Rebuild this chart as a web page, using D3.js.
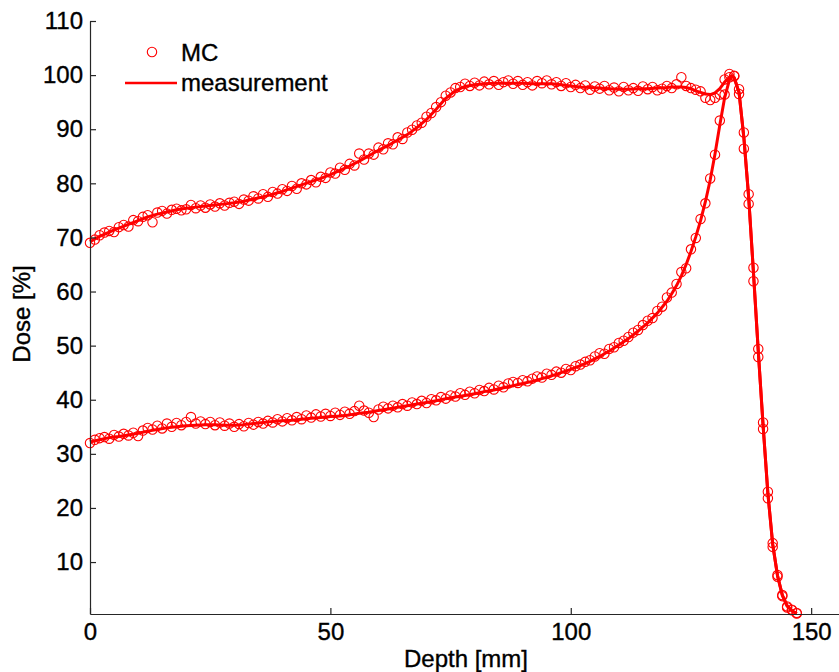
<!DOCTYPE html>
<html>
<head>
<meta charset="utf-8">
<script src="https://cdn.jsdelivr.net/npm/d3@7/dist/d3.min.js"></script>
<style>
  html, body { margin: 0; padding: 0; background: #fff; }
  svg { display: block; }
  text { font-family: "Liberation Sans", Arial, Helvetica, sans-serif; fill: #000; stroke: #000; stroke-width: 0.35px; }
</style>
</head>
<body>
<svg id="chart" width="839" height="672"></svg>
<script>
// ---------- data ----------
const xTicks = [0, 50, 100, 150];
const yTicks = [10, 20, 30, 40, 50, 60, 70, 80, 90, 100, 110];
const xLabel = "Depth [mm]";
const yLabel = "Dose [%]";
const legendLabels = ["MC", "measurement"];

// Monte Carlo depths (mm)
const mcDepth = [0,1,2,3,4,5,6,7,8,9,10,11,12,13,14,15,16,17,18,19,20,21,22,23,24,25,26,27,28,29,
  30,31,32,33,34,35,36,37,38,39,40,41,42,43,44,45,46,47,48,49,50,51,52,53,54,55,56,57,58,59,
  60,61,62,63,64,65,66,67,68,69,70,71,72,73,74,75,76,77,78,79,80,81,82,83,84,85,86,87,88,89,
  90,91,92,93,94,95,96,97,98,99,100,101,102,103,104,105,106,107,108,109,110,111,112,113,114,115,116,117,118,119,
  120,121,122,123,124,125,126,127,128,129,130,131,132,133,134,135,136,137,138,139,140,141,142,143,144,145,146,147];

// MC, spread-out Bragg peak
const mcSOBP = [69.0,69.6,70.4,70.9,71.2,71.0,71.9,72.3,72.0,73.2,73.0,73.8,74.1,72.8,74.6,74.9,74.4,75.1,75.3,75.0,
  75.2,76.0,75.4,75.9,75.5,76.1,75.7,76.3,75.9,76.4,76.6,76.2,77.0,76.8,77.6,77.2,78.0,77.5,78.4,78.1,
  78.9,78.6,79.5,79.0,80.0,79.8,80.6,80.2,81.2,81.0,82.0,81.8,82.9,82.5,83.6,83.3,85.5,84.4,85.5,85.3,
  86.6,86.3,87.4,87.2,88.5,88.2,89.4,89.9,90.7,91.2,92.3,93.0,94.1,95.0,96.2,96.8,97.6,97.8,98.4,98.0,
  98.6,98.1,98.8,98.3,98.9,98.2,98.7,99.0,98.4,98.9,98.2,98.7,98.1,98.9,98.5,99.0,98.3,98.7,98.0,98.5,
  97.8,98.2,97.6,98.1,97.3,97.9,97.5,98.0,97.2,97.7,97.0,97.8,97.2,97.6,97.1,97.9,97.4,97.8,97.2,97.5,
  98.0,97.6,98.3,99.6,98.0,97.6,97.3,97.0,95.8,95.4,95.8,96.4,99.2,100.2,99.9,97.4,89.4,78.0,64.4,49.4,
  35.8,23.0,13.5,7.6,3.9,1.8,1.1,0.5];

// MC, pristine Bragg peak
const mcPristine = [32.0,32.6,32.9,33.1,32.8,33.5,33.2,33.7,33.4,33.9,33.3,34.3,34.8,34.5,35.2,34.7,35.6,35.0,35.7,35.3,
  35.9,36.8,35.6,36.0,35.5,35.9,35.3,35.8,35.2,35.6,35.0,35.5,35.1,35.7,35.4,35.9,35.6,36.1,35.8,36.4,
  36.0,36.6,36.2,36.8,36.4,37.1,36.7,37.3,36.9,37.4,37.0,37.6,37.2,37.8,37.4,37.9,38.9,38.0,37.6,36.8,
  38.2,38.7,38.4,38.9,38.6,39.2,38.9,39.5,39.2,39.8,39.4,40.1,39.9,40.5,40.2,40.8,40.6,41.2,40.9,41.5,
  41.2,41.8,41.6,42.2,41.9,42.6,42.3,43.0,43.3,43.1,43.6,43.4,43.9,44.3,44.1,44.8,44.6,45.2,45.0,45.7,
  45.5,46.2,46.5,47.0,47.3,48.0,48.6,48.5,49.4,49.7,50.5,50.9,51.6,52.4,52.9,53.8,54.6,55.1,56.4,57.2,
  58.9,59.8,61.4,63.6,64.3,67.8,69.9,73.4,76.3,80.9,85.3,91.6,96.4,99.6,99.8,96.5,86.4,76.2,61.9,47.9,
  34.6,21.8,12.8,7.3,3.7,1.6,1.2,0.6];

// Measurement depths (mm)
const measDepth = [0,2,4,6,8,10,12,14,16,18,20,22,24,26,28,30,32,34,36,38,40,42,44,46,48,50,52,54,56,58,
  60,62,64,66,68,70,72,74,76,78,80,82,84,86,88,90,92,94,96,98,100,102,104,106,108,110,112,114,116,118,
  120,121,122,123,124,125,126,127,128,129,130,131,132,133,133.5,134,135,136,137,138,139,140,141,142,143,144,145,146,147];

// Measurement, spread-out Bragg peak
const measSOBP = [69.2,70.2,71.0,71.7,72.4,73.1,73.8,74.3,74.7,75.1,75.4,75.6,75.8,76.0,76.2,76.4,76.7,77.1,77.5,78.0,
  78.5,79.1,79.7,80.3,80.9,81.6,82.4,83.2,84.1,85.1,86.1,87.0,88.0,89.0,90.3,91.8,93.7,95.7,97.1,97.9,
  98.2,98.4,98.5,98.5,98.5,98.5,98.4,98.4,98.4,98.2,98.0,97.8,97.7,97.6,97.5,97.4,97.4,97.5,97.5,97.6,
  97.7,97.8,97.8,97.8,97.7,97.5,97.1,96.8,96.5,96.4,96.7,97.5,98.7,99.6,99.9,99.5,96.8,88.5,77.5,63.5,
  49.0,35.3,22.7,13.3,7.5,3.9,1.9,1.0,0.5];

// Measurement, pristine Bragg peak
const measPristine = [32.2,32.6,33.0,33.2,33.5,33.8,34.2,34.5,34.8,35.0,35.2,35.3,35.4,35.4,35.3,35.3,35.4,35.6,35.8,36.0,
  36.1,36.2,36.4,36.6,36.7,36.9,37.0,37.2,37.5,37.7,38.0,38.3,38.6,38.9,39.2,39.5,39.8,40.2,40.5,40.8,
  41.1,41.5,41.8,42.2,42.6,43.0,43.4,43.9,44.4,45.0,45.6,46.3,47.1,48.0,49.0,50.1,51.3,52.7,54.2,56.0,
  58.2,59.6,61.1,62.9,65.0,67.4,70.1,73.1,76.6,80.6,85.4,90.8,95.8,99.1,99.8,99.5,96.8,88.5,77.5,63.5,
  49.0,35.3,22.7,13.3,7.5,3.9,1.9,1.0,0.5];

// ---------- chart ----------
const svg = d3.select("#chart");
const red = "#ff0000";
const axisColor = "#262626";
const fontSize = 24;
const markerR = 4.7;

const x = d3.scaleLinear().domain([0, 156]).range([90, 840]);
const y = d3.scaleLinear().domain([0.4, 110]).range([614, 21]);

// MC circles (drawn first)
const gMC = svg.append("g");
[mcSOBP, mcPristine].forEach(vals => {
  gMC.selectAll(null)
    .data(mcDepth.map((d, i) => [d, vals[i]]))
    .enter().append("circle")
    .attr("cx", d => x(d[0]))
    .attr("cy", d => y(d[1]))
    .attr("r", markerR)
    .attr("fill", "none")
    .attr("stroke", red)
    .attr("stroke-width", 1.1);
});

// Measurement lines
const line = d3.line().x(d => x(d[0])).y(d => y(d[1]));
[measSOBP, measPristine].forEach(vals => {
  svg.append("path")
    .datum(measDepth.map((d, i) => [d, vals[i]]))
    .attr("d", line)
    .attr("fill", "none")
    .attr("stroke", red)
    .attr("stroke-width", 3)
    .attr("stroke-linejoin", "round");
});

// Axes
const xAxis = d3.axisBottom(x).tickValues(xTicks).tickSize(-6).tickSizeOuter(0).tickPadding(9);
const yAxis = d3.axisLeft(y).tickValues(yTicks).tickSize(-6).tickSizeOuter(0).tickPadding(7);

const gx = svg.append("g").attr("transform", `translate(0,${y.range()[0]})`).call(xAxis);
const gy = svg.append("g").attr("transform", `translate(${x.range()[0]},0)`).call(yAxis);
[gx, gy].forEach(g => {
  g.select(".domain").attr("stroke", axisColor).attr("stroke-width", 1.2);
  g.selectAll(".tick line").attr("stroke", axisColor).attr("stroke-width", 1.2);
  g.selectAll(".tick text").attr("fill", "#000").style("font-size", fontSize + "px")
    .style("font-family", '"Liberation Sans", Arial, sans-serif');
});

// Axis labels
svg.append("text")
  .attr("x", 466).attr("y", 667)
  .attr("text-anchor", "middle")
  .style("font-size", fontSize + "px")
  .text(xLabel);

svg.append("text")
  .attr("transform", "translate(30,314) rotate(-90)")
  .attr("text-anchor", "middle")
  .style("font-size", fontSize + "px")
  .text(yLabel);

// Legend
const lg = svg.append("g");
lg.append("circle").attr("cx", 152).attr("cy", 52).attr("r", markerR)
  .attr("fill", "none").attr("stroke", red).attr("stroke-width", 1.1);
lg.append("text").attr("x", 181).attr("y", 61).style("font-size", fontSize + "px").text(legendLabels[0]);
lg.append("line").attr("x1", 125).attr("x2", 177).attr("y1", 83).attr("y2", 83)
  .attr("stroke", red).attr("stroke-width", 2.6);
lg.append("text").attr("x", 181).attr("y", 91).style("font-size", fontSize + "px").text(legendLabels[1]);
</script>
</body>
</html>
